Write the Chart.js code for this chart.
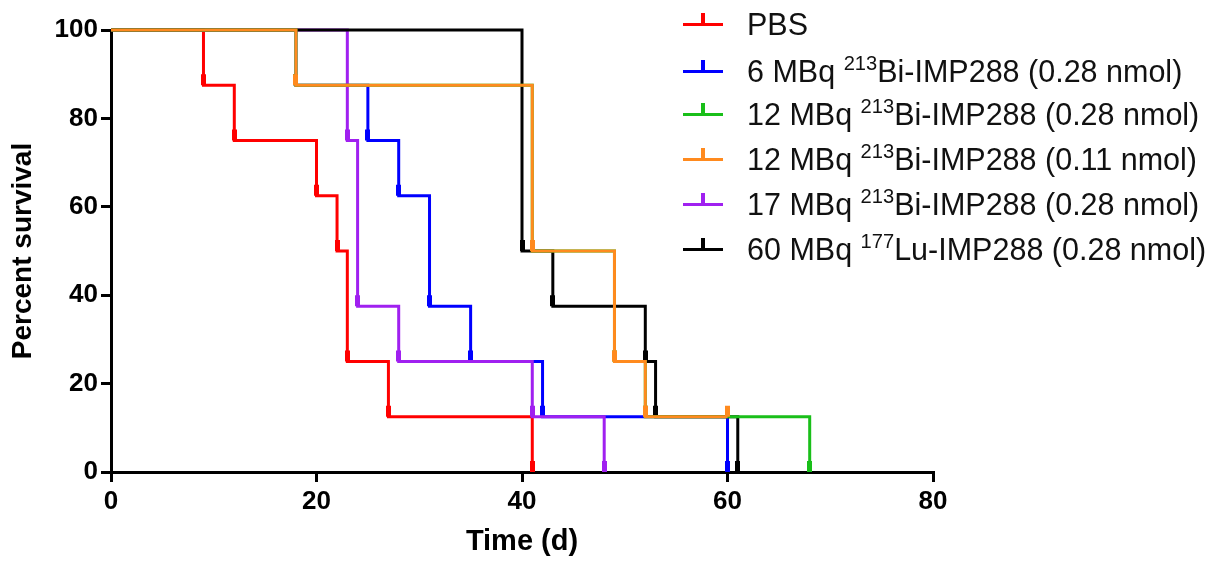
<!DOCTYPE html>
<html>
<head>
<meta charset="utf-8">
<script src="https://cdn.jsdelivr.net/npm/chart.js@4.4.1/dist/chart.umd.min.js"></script>
<style>
  html, body { margin: 0; padding: 0; background: #fff; }
  #wrap { position: relative; width: 1213px; height: 562px; }
  #legend { position: absolute; left: 0; top: 0; }
  .row { position: absolute; left: 683px; height: 40px; display: flex; align-items: center;
         font-family: "Liberation Sans", Arial, sans-serif; font-size: 30.5px; color: #111; white-space: nowrap; }
  .sym { position: relative; width: 40px; height: 3px; margin-right: 24px; }
  .sym::after { content: ""; position: absolute; left: 18px; top: -10px; width: 4px; height: 12px; background: inherit; }
  .sup { font-size: 0.66em; position: relative; top: -0.55em; }
</style>
</head>
<body>
<div id="wrap">
  <canvas id="grafico" width="1213" height="562"></canvas>
  <div id="legend"></div>
</div>
<script>
// tempos (dias) e sobrevivencia (%) de cada grupo
var pbsTime = [0, 9, 12, 20, 22, 23, 27, 41]
var pbsSurv = [100, 87.5, 75, 62.5, 50, 25, 12.5, 0]

var bi6Time = [0, 18, 25, 28, 31, 35, 42, 60]
var bi6Surv = [100, 87.5, 75, 62.5, 37.5, 25, 12.5, 0]

var bi12Time = [0, 18, 41, 49, 52, 68]
var bi12Surv = [100, 87.5, 50, 25, 12.5, 0]

var bi12lowTime = [0, 18, 41, 49, 52, 60]
var bi12lowSurv = [100, 87.5, 50, 25, 12.5, 12.5]

var bi17Time = [0, 23, 24, 28, 41, 48]
var bi17Surv = [100, 75, 37.5, 25, 12.5, 0]

var lu60Time = [0, 40, 43, 52, 53, 61]
var lu60Surv = [100, 50, 37.5, 25, 12.5, 0]

var xTicks = [0, 20, 40, 60, 80]
var yTicks = [0, 20, 40, 60, 80, 100]

// ordem: menor numero fica por cima
var grupos = [
  { nome: "PBS", html: "PBS", t: pbsTime, s: pbsSurv, cor: "#ff0000", ordem: 6 },
  { nome: "6 MBq 213Bi-IMP288 (0.28 nmol)", html: '6 MBq <span class="sup">213</span>Bi-IMP288 (0.28 nmol)', t: bi6Time, s: bi6Surv, cor: "#0000ff", ordem: 5 },
  { nome: "12 MBq 213Bi-IMP288 (0.28 nmol)", html: '12 MBq <span class="sup">213</span>Bi-IMP288 (0.28 nmol)', t: bi12Time, s: bi12Surv, cor: "#19bf19", ordem: 2 },
  { nome: "12 MBq 213Bi-IMP288 (0.11 nmol)", html: '12 MBq <span class="sup">213</span>Bi-IMP288 (0.11 nmol)', t: bi12lowTime, s: bi12lowSurv, cor: "#ff8a1e", ordem: 1 },
  { nome: "17 MBq 213Bi-IMP288 (0.28 nmol)", html: '17 MBq <span class="sup">213</span>Bi-IMP288 (0.28 nmol)', t: bi17Time, s: bi17Surv, cor: "#a020f0", ordem: 4 },
  { nome: "60 MBq 177Lu-IMP288 (0.28 nmol)", html: '60 MBq <span class="sup">177</span>Lu-IMP288 (0.28 nmol)', t: lu60Time, s: lu60Surv, cor: "#000000", ordem: 3 }
]

// marcador: barrinha vertical acima do ponto
const marcador = (cor) => {
  var c = document.createElement("canvas")
  c.width = 5
  c.height = 24
  var g = c.getContext("2d")
  g.fillStyle = cor
  g.fillRect(0, 1, 5, 11)
  return c
}

var datasets = grupos.map(g => ({
  label: g.nome,
  data: g.t.map((t, i) => ({ x: t, y: g.s[i] })),
  borderColor: g.cor,
  backgroundColor: g.cor,
  borderWidth: 3,
  stepped: "before",
  pointStyle: marcador(g.cor),
  pointRadius: g.t.map((t, i) => i == 0 ? 0 : 5),
  pointHoverRadius: 5,
  clip: false,
  order: g.ordem
}))

var fonteTick = { family: "'Liberation Sans', Arial, sans-serif", size: 26, weight: "bold" }

var grafico = new Chart(document.getElementById("grafico"), {
  type: "line",
  data: { datasets: datasets },
  options: {
    responsive: false,
    animation: false,
    devicePixelRatio: 1,
    layout: { padding: { left: 0, right: 280, top: 30, bottom: 0 } },
    plugins: { legend: { display: false }, tooltip: { enabled: false } },
    scales: {
      x: {
        type: "linear",
        min: 0,
        max: 80,
        afterFit: (scale) => { scale.height = 90 },
        afterBuildTicks: (scale) => { scale.ticks = xTicks.map(v => ({ value: v })) },
        border: { display: true, color: "#000", width: 3 },
        grid: { display: true, drawOnChartArea: false, drawTicks: true, tickLength: 10, lineWidth: 3, color: "#000" },
        ticks: { color: "#000", font: fonteTick, padding: 4, maxRotation: 0 },
        title: { display: true, text: "Time (d)", color: "#000", padding: { top: 0, bottom: 3 },
                 font: { family: "'Liberation Sans', Arial, sans-serif", size: 29, weight: "bold" } }
      },
      y: {
        min: 0,
        max: 100,
        afterFit: (scale) => { scale.width = 111 },
        afterBuildTicks: (scale) => { scale.ticks = yTicks.map(v => ({ value: v })) },
        border: { display: true, color: "#000", width: 3 },
        grid: { display: true, drawOnChartArea: false, drawTicks: true, tickLength: 10, lineWidth: 3, color: "#000" },
        ticks: { color: "#000", font: fonteTick, padding: 3 },
        title: { display: true, text: "Percent survival", color: "#000", padding: { top: 6, bottom: 0 },
                 font: { family: "'Liberation Sans', Arial, sans-serif", size: 28, weight: "bold" } }
      }
    }
  }
})

// legenda em html por causa dos sobrescritos
var linhasLegenda = [24, 71, 114, 159, 204, 249]
var legend = document.getElementById("legend")
grupos.forEach((g, i) => {
  legend.innerHTML += `<div class="row" style="top:${linhasLegenda[i] - 20}px">
    <div class="sym" style="background:${g.cor}"></div><span>${g.html}</span></div>`
})
</script>
</body>
</html>
